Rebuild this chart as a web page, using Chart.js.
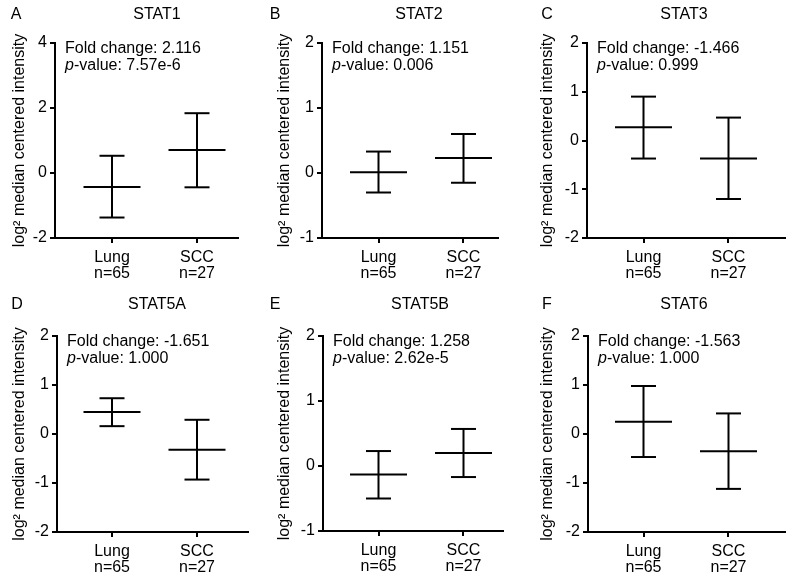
<!DOCTYPE html>
<html>
<head>
<meta charset="utf-8">
<script src="https://cdn.jsdelivr.net/npm/chart.js@4/dist/chart.umd.min.js"></script>
<style>
  html, body { margin: 0; padding: 0; background: #fff; }
  #wrap { position: relative; width: 791px; height: 580px; background: #fff; overflow: hidden; }
  canvas { position: absolute; }
</style>
</head>
<body>
<div id="wrap"></div>
<script>
// ---- data ----
const panelLetters = ['A', 'B', 'C', 'D', 'E', 'F'];
const genes = ['STAT1', 'STAT2', 'STAT3', 'STAT5A', 'STAT5B', 'STAT6'];
const foldChanges = ['2.116', '1.151', '-1.466', '-1.651', '1.258', '-1.563'];
const pValues = ['7.57e-6', '0.006', '0.999', '1.000', '2.62e-5', '1.000'];
const groups = ['Lung', 'SCC'];
const sampleSizes = ['n=65', 'n=27'];

const lungMean  = [-0.43, 0.01, 0.27, 0.45, -0.13, 0.25];
const lungUpper = [0.53, 0.33, 0.90, 0.73, 0.23, 0.98];
const lungLower = [-1.37, -0.30, -0.37, 0.16, -0.50, -0.47];
const sccMean   = [0.71, 0.23, -0.37, -0.32, 0.20, -0.35];
const sccUpper  = [1.84, 0.60, 0.47, 0.29, 0.57, 0.42];
const sccLower  = [-0.44, -0.15, -1.20, -0.93, -0.17, -1.12];

const yMin  = [-2, -1, -2, -2, -1, -2];
const yMax  = [4, 2, 2, 2, 2, 2];
const yStep = [2, 1, 1, 1, 1, 1];

// ---- layout (pixels) ----
const panelLayout = [
  {left: 0,   top: 0,   axisL: 55,  axisR: 238, areaT: 43,  areaB: 238, lungOff: 57,   letterX: 16,  titleX: 157},
  {left: 265, top: 0,   axisL: 322, axisR: 498, areaT: 43,  areaB: 238, lungOff: 56.5, letterX: 275, titleX: 419},
  {left: 528, top: 0,   axisL: 587, axisR: 785, areaT: 43,  areaB: 238, lungOff: 56.5, letterX: 547, titleX: 684},
  {left: 0,   top: 290, axisL: 57,  axisR: 248, areaT: 336, areaB: 532, lungOff: 55,   letterX: 17,  titleX: 157},
  {left: 265, top: 290, axisL: 323, axisR: 503, areaT: 336, areaB: 531, lungOff: 55.5, letterX: 275, titleX: 420},
  {left: 528, top: 290, axisL: 588, axisR: 785, areaT: 336, areaB: 532, lungOff: 55.5, letterX: 547, titleX: 684}
];
const PX_PER_GROUP = 85;
const CANVAS_H = 290;
const X_AXIS_H = 40;
const RIGHT_PAD = 4;
const FONT = '"Liberation Sans", Arial, Helvetica, sans-serif';

Chart.defaults.font.family = FONT;
Chart.defaults.color = '#000';

const textPlugin = {
  id: 'panelText',
  afterDraw(chart, args, opts) {
    const ctx = chart.ctx;
    const L = opts.layout;
    const i = opts.index;
    ctx.save();
    ctx.fillStyle = '#000';
    ctx.font = '16px ' + FONT;
    ctx.textBaseline = 'alphabetic';
    ctx.textAlign = 'center';
    const rowBase = 18.5;
    ctx.fillText(panelLetters[i], L.letterX - L.left, rowBase);
    ctx.fillText(genes[i], L.titleX - L.left, rowBase);
    ctx.textAlign = 'left';
    const tx = L.axisL + 10 - L.left;
    const fy = L.areaT - L.top + 9.5;
    ctx.fillText('Fold change: ' + foldChanges[i], tx, fy);
    const py = fy + 17.5;
    ctx.font = 'italic 16px ' + FONT;
    ctx.fillText('p', tx, py);
    const pw = ctx.measureText('p').width;
    ctx.font = '16px ' + FONT;
    ctx.fillText('-value: ' + pValues[i], tx + pw, py);
    ctx.restore();
  }
};

const wrap = document.getElementById('wrap');

panelLayout.forEach((L, i) => {
  const cv = document.createElement('canvas');
  const w = L.axisR - L.left + RIGHT_PAD;
  cv.width = w; cv.height = CANVAS_H;
  cv.style.left = L.left + 'px';
  cv.style.top = L.top + 'px';
  cv.style.width = w + 'px';
  cv.style.height = CANVAS_H + 'px';
  wrap.appendChild(cv);

  const yAxisW = L.axisL - L.left;
  const padTop = L.areaT - L.top;
  const padBottom = CANVAS_H - (L.areaB - L.top) - X_AXIS_H;
  const xMin = 1 - L.lungOff / PX_PER_GROUP;
  const xMax = xMin + (L.axisR - L.axisL) / PX_PER_GROUP;

  const whisker = [
    {x: 1, y: lungLower[i]}, {x: 1, y: lungUpper[i]},
    {x: 1.5, y: null},
    {x: 2, y: sccLower[i]}, {x: 2, y: sccUpper[i]}
  ];
  const caps = [
    {x: 1, y: lungLower[i]}, {x: 1, y: lungUpper[i]},
    {x: 2, y: sccLower[i]}, {x: 2, y: sccUpper[i]}
  ];
  const means = [{x: 1, y: lungMean[i]}, {x: 2, y: sccMean[i]}];

  new Chart(cv, {
    type: 'scatter',
    data: {
      datasets: [
        {data: whisker, showLine: true, spanGaps: false, borderColor: '#000', borderWidth: 2, pointRadius: 0},
        {data: caps, pointStyle: 'line', pointRadius: 12.5, pointBorderWidth: 2, pointBorderColor: '#000', pointBackgroundColor: '#000'},
        {data: means, pointStyle: 'line', pointRadius: 28.5, pointBorderWidth: 2, pointBorderColor: '#000', pointBackgroundColor: '#000'}
      ]
    },
    options: {
      responsive: false,
      animation: false,
      events: [],
      devicePixelRatio: 1,
      layout: {autoPadding: false, padding: {left: 0, right: RIGHT_PAD, top: padTop, bottom: padBottom}},
      plugins: {
        legend: {display: false},
        tooltip: {enabled: false},
        panelText: {layout: L, index: i}
      },
      scales: {
        x: {
          type: 'linear',
          min: xMin, max: xMax,
          afterBuildTicks: (s) => { s.ticks = [{value: 1}, {value: 2}]; },
          afterFit: (s) => { s.height = X_AXIS_H; s.paddingLeft = 0; s.paddingRight = 0; },
          ticks: {
            callback: (v) => [groups[v - 1], sampleSizes[v - 1]],
            font: {size: 16, lineHeight: 1.0},
            color: '#000',
            padding: 7,
            maxRotation: 0,
            autoSkip: false
          },
          grid: {drawOnChartArea: false, drawTicks: true, tickLength: 5, color: '#000', lineWidth: 2},
          border: {display: true, color: '#000', width: 2}
        },
        y: {
          type: 'linear',
          min: yMin[i], max: yMax[i],
          afterFit: (s) => { s.width = yAxisW; s.paddingTop = 0; s.paddingBottom = 0; },
          ticks: {stepSize: yStep[i], font: {size: 16}, color: '#000', padding: 3},
          grid: {drawOnChartArea: false, drawTicks: true, tickLength: 5, color: '#000', lineWidth: 2},
          border: {display: true, color: '#000', width: 2},
          title: {
            display: true,
            text: 'log\u00B2 median centered intensity',
            font: {size: 16, lineHeight: 1.2},
            color: '#000',
            padding: {top: 10, bottom: 0}
          }
        }
      }
    },
    plugins: [textPlugin]
  });
});
</script>
</body>
</html>
